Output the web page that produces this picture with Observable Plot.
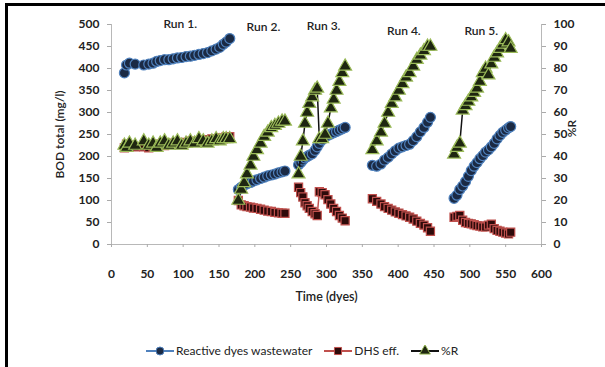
<!DOCTYPE html>
<html>
<head>
<meta charset="utf-8">
<script src="https://cdn.jsdelivr.net/npm/d3@7"></script>
<script src="https://cdn.jsdelivr.net/npm/@observablehq/plot@0.6"></script>
<style>
  html, body { margin: 0; padding: 0; background: #fff; }
  #wrap { position: relative; width: 605px; height: 367px; overflow: hidden; font-family: Lato, "Open Sans", sans-serif; }
  #chart { position: absolute; left: 0; top: 0; }
  .bar { position: absolute; background: #000; }
  #legend { position: absolute; top: 343px; left: 146px; display: flex; align-items: center; font-size: 12px; color: #222; white-space: nowrap; }
  #legend .item { display: flex; align-items: center; margin-right: 12px; }
  #legend svg { margin-right: 2px; }
</style>
</head>
<body>
<div id="wrap">
  <div id="chart"></div>
  <div class="bar" style="left:5px;top:3px;width:600px;height:3px"></div>
  <div class="bar" style="left:5px;top:3px;width:3px;height:364px"></div>
  <div id="legend"></div>
</div>
<script>
// ---- data ----
const days = [
  18,21,25,33,45,52,58,63,68,74,80,86,92,98,104,110,116,122,128,134,140,146,151,156,160,165,
  177,181,185,189,194,198,203,208,213,218,223,228,233,238,242,
  261,264,267,270,273,276,280,284,287,290,294,298,302,306,310,314,318,322,326,
  364,370,376,381,386,391,396,401,406,411,416,421,426,431,436,441,445,
  478,482,486,490,494,498,502,506,510,514,518,522,526,530,534,538,542,546,550,554,557
];
const reactiveDyes = [
  390,408,412,410,408,410,412,416,418,420,420,422,424,425,427,428,430,432,434,436,440,444,448,455,460,468,
  125,130,135,138,141,144,147,150,153,156,158,160,163,165,167,
  181,186,192,197,200,203,206,214,222,230,238,244,248,251,254,257,260,263,266,
  180,178,183,192,198,206,213,219,222,225,228,236,245,256,266,278,289,
  105,112,125,133,143,155,168,178,186,195,202,210,215,222,230,240,248,255,260,265,268
];
const dhsEff = [
  220,228,225,222,222,220,222,225,228,225,228,230,228,232,230,235,232,235,238,235,240,238,242,240,245,245,
  100,90,88,86,85,83,82,80,78,76,75,73,72,71,71,
  130,118,108,95,88,82,75,70,66,120,118,113,102,92,82,75,66,60,54,
  104,98,92,86,82,78,74,71,68,65,62,58,53,48,44,38,30,
  62,64,66,55,50,48,47,45,43,42,40,40,44,46,36,32,30,28,26,24,28
];
const removalPct = [
  45,44,46,45,47,45,46,44,46,47,45,46,47,45,46,47,46,48,47,46,47,48,47,48,48,48,
  20,25,28,32,36,40,43,46,49,51,53,54,55,56,56,
  32,40,47,55,60,64,67,70,71,48,48,50,55,62,66,70,74,78,81,
  43,47,51,55,60,64,67,70,73,76,78,81,84,86,88,90,90,
  41,44,46,61,63,65,67,69,71,74,78,80,77,82,85,87,89,91,93,92,89
];
const runStarts = [0, 175, 255, 355, 470];
const runNames = ["Run 1.", "Run 2.", "Run 3.", "Run 4.", "Run 5."];
const runLabelDay = [96, 212, 296, 408, 516];
const runLabelBod = [500, 493, 497, 486, 486];
const xTicks = d3.range(0, 601, 50);
const yTicks = d3.range(0, 501, 50);
const seriesNames = ["Reactive dyes wastewater", "DHS eff.", "%R"];

// ---- build table ----
const runOf = d => d3.bisectRight(runStarts, d) - 1;
const rows = days.map((d, i) => ({day: d, run: runOf(d), inf: reactiveDyes[i], eff: dhsEff[i], r: removalPct[i]}));
const labels = runNames.map((n, i) => ({name: n, day: runLabelDay[i], bod: runLabelBod[i]}));

const BLUE = "#4f81bd", RED = "#c0504d", GREEN = "#9bbb59";

const chart = Plot.plot({
  width: 605,
  height: 320,
  marginLeft: 111,
  marginRight: 64,
  marginTop: 24,
  marginBottom: 76,
  style: {fontFamily: "Lato, 'Open Sans', sans-serif", fontSize: "12px", color: "#222", background: "transparent"},
  x: {domain: [0, 600]},
  y: {domain: [0, 500]},
  marks: [
    Plot.ruleY([0], {stroke: "#b8b8b8"}),
    Plot.ruleX([0], {stroke: "#b8b8b8"}),
    Plot.ruleX([600], {stroke: "#b8b8b8"}),
    Plot.axisX({ticks: xTicks, tickSize: 3, tickPadding: 22, label: null, stroke: "#aaa", fontWeight: "bold"}),
    Plot.axisY({ticks: yTicks, tickSize: 4, tickPadding: 8, label: null, stroke: "#aaa", fontWeight: "bold"}),
    Plot.axisY({anchor: "right", ticks: yTicks, tickFormat: d => d / 5, tickSize: 4, tickPadding: 8, label: null, stroke: "#aaa", fontWeight: "bold"}),
    // series
    Plot.line(rows, {x: "day", y: "inf", z: "run", stroke: BLUE, strokeWidth: 1.5}),
    Plot.dot(rows, {x: "day", y: "inf", r: 5, fill: "#1b2a44", stroke: BLUE, strokeWidth: 1.2}),
    Plot.line(rows, {x: "day", y: "eff", z: "run", stroke: RED, strokeWidth: 1.5}),
    Plot.dot(rows, {x: "day", y: "eff", r: 4.6, symbol: "square", fill: "#2e0a0a", stroke: RED, strokeWidth: 1.2}),
    Plot.line(rows, {x: "day", y: d => d.r * 5, z: "run", stroke: "#111", strokeWidth: 1.5}),
    Plot.dot(rows, {x: "day", y: d => d.r * 5, r: 4.8, symbol: "triangle", fill: "#1e2610", stroke: GREEN, strokeWidth: 1.2}),
    // annotations
    Plot.text(labels, {x: "day", y: "bod", text: "name", fontSize: 12, fontWeight: 600, fill: "#222"}),
    Plot.text(["BOD total (mg/l)"], {frameAnchor: "left", dx: -51, rotate: -90, textAnchor: "middle", fontSize: 12, fontWeight: 600, fill: "#222"}),
    Plot.text(["%R"], {frameAnchor: "right", dx: 31, dy: -6, rotate: -90, textAnchor: "middle", fontSize: 12, fontWeight: 600, fill: "#222"}),
    Plot.text(["Time (dyes)"], {frameAnchor: "bottom", dy: 56, textAnchor: "middle", fontSize: 12.5, fontWeight: 600, fill: "#222"})
  ]
});
document.getElementById("chart").appendChild(chart);

// ---- legend ----
const legend = d3.select("#legend");
const legendStyle = [
  {line: BLUE, fill: "#1b2a44", stroke: BLUE, sym: d3.symbolCircle},
  {line: RED, fill: "#2e0a0a", stroke: RED, sym: d3.symbolSquare},
  {line: "#111", fill: "#1e2610", stroke: GREEN, sym: d3.symbolTriangle}
];
seriesNames.forEach((name, i) => {
  const it = legend.append("div").attr("class", "item");
  const s = it.append("svg").attr("width", 28).attr("height", 12);
  s.append("line").attr("x1", 0).attr("x2", 28).attr("y1", 6).attr("y2", 6).attr("stroke", legendStyle[i].line).attr("stroke-width", 2);
  s.append("path").attr("d", d3.symbol(legendStyle[i].sym, 50)()).attr("transform", "translate(14,6)")
    .attr("fill", legendStyle[i].fill).attr("stroke", legendStyle[i].stroke).attr("stroke-width", 1);
  it.append("span").text(name);
});
</script>
</body>
</html>
